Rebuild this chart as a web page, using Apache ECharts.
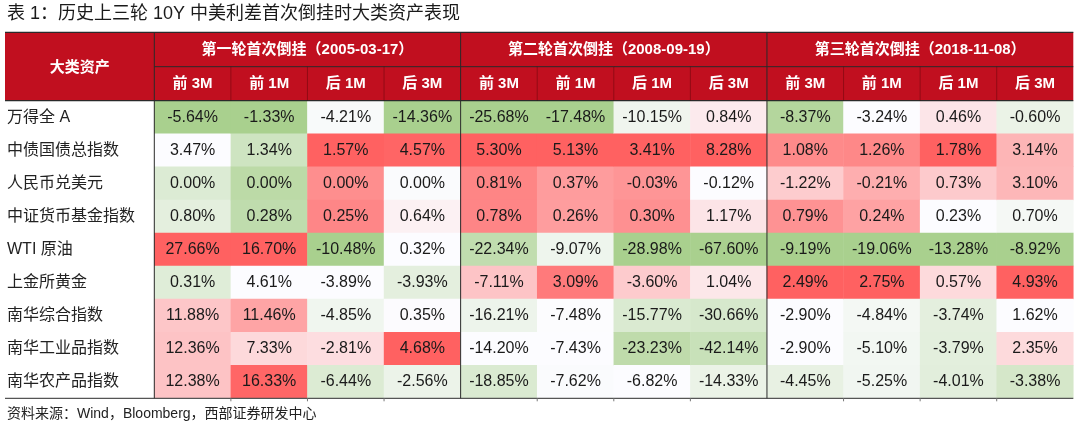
<!DOCTYPE html>
<html><head><meta charset="utf-8">
<script src="https://cdn.jsdelivr.net/npm/echarts@6/dist/echarts.min.js"></script>
<style>html,body{margin:0;padding:0;background:#fff}#c{width:1080px;height:428px}</style>
</head><body><div id="c"></div>
<script>
// ---- text ----
const titleText = '表 1：历史上三轮 10Y 中美利差首次倒挂时大类资产表现';
const sourceText = '资料来源：Wind，Bloomberg，西部证券研发中心';
const cornerLabel = '大类资产';
const rounds = ['第一轮首次倒挂（2005-03-17）', '第二轮首次倒挂（2008-09-19）', '第三轮首次倒挂（2018-11-08）'];
const periods = ['前 3M', '前 1M', '后 1M', '后 3M'];
const assets = ['万得全 A', '中债国债总指数', '人民币兑美元', '中证货币基金指数', 'WTI 原油', '上金所黄金', '南华综合指数', '南华工业品指数', '南华农产品指数'];

// ---- values (%), one array per column, rows in the order of `assets` ----
const r1Pre3M  = [-5.64, 3.47, 0.00, 0.80, 27.66, 0.31, 11.88, 12.36, 12.38];
const r1Pre1M  = [-1.33, 1.34, 0.00, 0.28, 16.70, 4.61, 11.46, 7.33, 16.33];
const r1Post1M = [-4.21, 1.57, 0.00, 0.25, -10.48, -3.89, -4.85, -2.81, -6.44];
const r1Post3M = [-14.36, 4.57, 0.00, 0.64, 0.32, -3.93, 0.35, 4.68, -2.56];
const r2Pre3M  = [-25.68, 5.30, 0.81, 0.78, -22.34, -7.11, -16.21, -14.20, -18.85];
const r2Pre1M  = [-17.48, 5.13, 0.37, 0.26, -9.07, 3.09, -7.48, -7.43, -7.62];
const r2Post1M = [-10.15, 3.41, -0.03, 0.30, -28.98, -3.60, -15.77, -23.23, -6.82];
const r2Post3M = [0.84, 8.28, -0.12, 1.17, -67.60, 1.04, -30.66, -42.14, -14.33];
const r3Pre3M  = [-8.37, 1.08, -1.22, 0.79, -9.19, 2.49, -2.90, -2.90, -4.45];
const r3Pre1M  = [-3.24, 1.26, -0.21, 0.24, -19.06, 2.75, -4.84, -5.10, -5.25];
const r3Post1M = [0.46, 1.78, 0.73, 0.23, -13.28, 0.57, -3.74, -3.79, -4.01];
const r3Post3M = [-0.60, 3.14, 3.10, 0.70, -8.92, 4.93, 1.62, 2.35, -3.38];
const columns = [r1Pre3M, r1Pre1M, r1Post1M, r1Post3M, r2Pre3M, r2Pre1M, r2Post1M, r2Post3M, r3Pre3M, r3Pre1M, r3Post1M, r3Post3M];

// ---- layout / style ----
const W = 1080, H = 428;
const tblL = 5, gL = 154.3, gR = 1073.3, hTop = 32.3, hMid = 66.7, gT = 100.7, gB = 398.3;
const headRed = '#C10F1F';
const lowC = [169, 208, 142], midC = [252, 252, 255], highC = [255, 97, 97];
const cjk = 'Noto Sans CJK SC, sans-serif';
const latin = 'Liberation Sans, Arial, Noto Sans CJK SC, sans-serif';

// 3-colour scale per column: min green, 50th percentile white, max red
function scaleColor(col, v) {
  const s = col.slice().sort((a, b) => a - b);
  const n = s.length, p = (n - 1) * 0.5, lo = Math.floor(p), hi = Math.ceil(p);
  const mid = s[lo] + (s[hi] - s[lo]) * (p - lo);
  const mn = s[0], mx = s[n - 1];
  let t, end;
  if (v <= mid) { t = mid === mn ? 0 : (mid - v) / (mid - mn); end = lowC; }
  else { t = mx === mid ? 0 : (v - mid) / (mx - mid); end = highC; }
  const c = midC.map((m, i) => Math.round(m + (end[i] - m) * t));
  return 'rgb(' + c.join(',') + ')';
}

const xCats = [];
rounds.forEach((r, ri) => periods.forEach(p => xCats.push(ri + '|' + p)));

const data = [];
columns.forEach((col, ci) => col.forEach((v, ri) => {
  data.push({ value: [ci, ri, v], itemStyle: { color: scaleColor(col, v) } });
}));

const colW = (gR - gL) / xCats.length;
const g = [];
g.push({ type: 'rect', z: -1, shape: { x: tblL, y: hTop, width: gR - tblL, height: gT - hTop }, style: { fill: headRed } });
g.push({ type: 'text', z: 20, style: { x: (tblL + gL) / 2, y: (hTop + gT) / 2, text: cornerLabel, fill: '#fff', font: 'bold 15px ' + cjk, align: 'center', verticalAlign: 'middle' } });
rounds.forEach((r, i) => {
  const x0 = gL + i * 4 * colW;
  g.push({ type: 'text', z: 20, style: { x: x0 + 2 * colW, y: (hTop + hMid) / 2, text: r, fill: '#fff', font: 'bold 15px ' + latin, align: 'center', verticalAlign: 'middle' } });
});
function line(x1, y1, x2, y2, color, w) {
  g.push({ type: 'line', z: 30, shape: { x1, y1, x2, y2 }, style: { stroke: color, lineWidth: w || 1 } });
}
const dark = '#2a2a2a';
line(tblL, hTop, gR, hTop, dark, 1.2);
line(gL, hMid, gR, hMid, dark, 1);
line(tblL, gT, gR, gT, dark, 1.2);
line(tblL, gB, gR, gB, '#555', 1.2);
for (let k = 0; k <= 12; k++) {
  const x = gL + k * colW;
  if (k % 4 === 0 && k < 12) line(x, hTop, x, gB, dark, 1);
  else if (k < 12) {
    line(x, hMid, x, gT, 'rgba(60,0,0,0.35)', 1);
    line(x, gB, x, gB + 3, '#777', 1);
  }
}
g.push({ type: 'text', z: 20, style: { x: 7, y: 14.5, text: titleText, fill: '#1a1a1a', font: '18px ' + latin, verticalAlign: 'middle' } });
g.push({ type: 'text', z: 20, style: { x: 7, y: 414.5, text: sourceText, fill: '#222', font: '14px ' + latin, verticalAlign: 'middle' } });

const chart = echarts.init(document.getElementById('c'), null, { renderer: 'canvas' });
chart.setOption({
  animation: false,
  backgroundColor: '#fff',
  grid: { left: gL, right: W - gR, top: gT, bottom: H - gB, containLabel: false },
  xAxis: {
    type: 'category', data: xCats, position: 'top', z: 5,
    axisLine: { show: false }, axisTick: { show: false }, splitLine: { show: false },
    axisLabel: { interval: 0, margin: (gT - hMid) / 2, verticalAlign: 'middle', color: '#fff', fontWeight: 'bold', fontSize: 15, fontFamily: latin, formatter: v => v.split('|')[1] }
  },
  yAxis: {
    type: 'category', data: assets, inverse: true,
    axisLine: { show: false }, axisTick: { show: false }, splitLine: { show: false },
    axisLabel: { interval: 0, align: 'left', margin: gL - 7, color: '#222', fontSize: 16, fontFamily: latin }
  },
  series: [{
    type: 'heatmap', data: data, emphasis: { disabled: true },
    label: { show: true, color: '#1a1a1a', fontSize: 16, fontFamily: latin, formatter: p => p.value[2].toFixed(2) + '%' },
    itemStyle: { borderWidth: 0 }
  }],
  graphic: { elements: g }
});
</script></body></html>
